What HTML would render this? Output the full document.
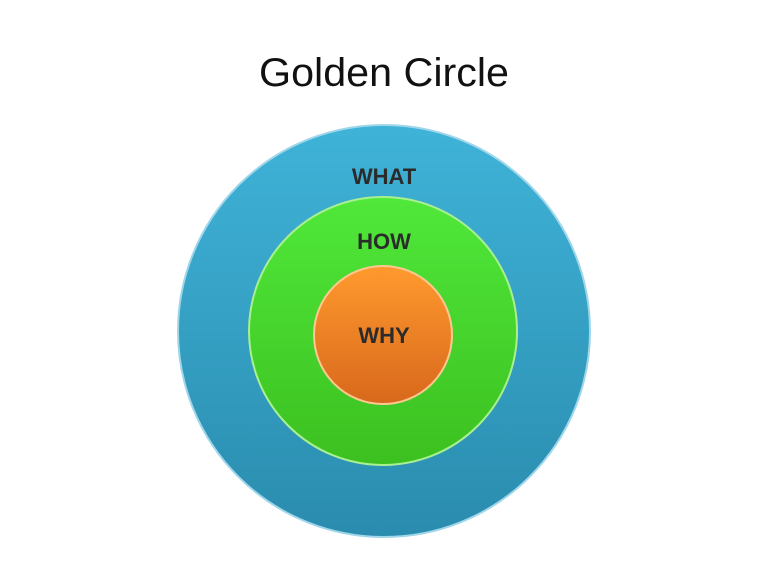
<!DOCTYPE html>
<html><head><meta charset="utf-8"><style>
html,body{margin:0;padding:0;background:#fff;width:768px;height:576px;overflow:hidden}
</style></head><body>
<svg width="768" height="576" viewBox="0 0 768 576" xmlns="http://www.w3.org/2000/svg">
<defs>
<linearGradient id="b" x1="0" y1="0" x2="0" y2="1">
<stop offset="0" stop-color="#3fb3d8"/><stop offset="1" stop-color="#2a8cae"/></linearGradient>
<linearGradient id="g" x1="0" y1="0" x2="0" y2="1">
<stop offset="0" stop-color="#50e83a"/><stop offset="1" stop-color="#3cc020"/></linearGradient>
<linearGradient id="o" x1="0" y1="0" x2="0" y2="1">
<stop offset="0" stop-color="#ff9a2e"/><stop offset="1" stop-color="#d8681c"/></linearGradient>
</defs>
<text x="384" y="86" text-anchor="middle" font-family="Liberation Sans, sans-serif" font-size="40" textLength="250" lengthAdjust="spacingAndGlyphs" fill="#111">Golden Circle</text>
<circle cx="384" cy="331" r="206" fill="url(#b)" stroke="#9fd6ea" stroke-width="2"/>
<circle cx="383" cy="331" r="134" fill="url(#g)" stroke="#a8f090" stroke-width="2"/>
<circle cx="383" cy="335" r="69" fill="url(#o)" stroke="#ffc890" stroke-width="2"/>
<g font-family="Liberation Sans, sans-serif" font-weight="bold" font-size="22" fill="#2b2b2b" text-anchor="middle">
<text x="384" y="184">WHAT</text>
<text x="384" y="249">HOW</text>
<text x="384" y="343">WHY</text>
</g>
</svg>
</body></html>
